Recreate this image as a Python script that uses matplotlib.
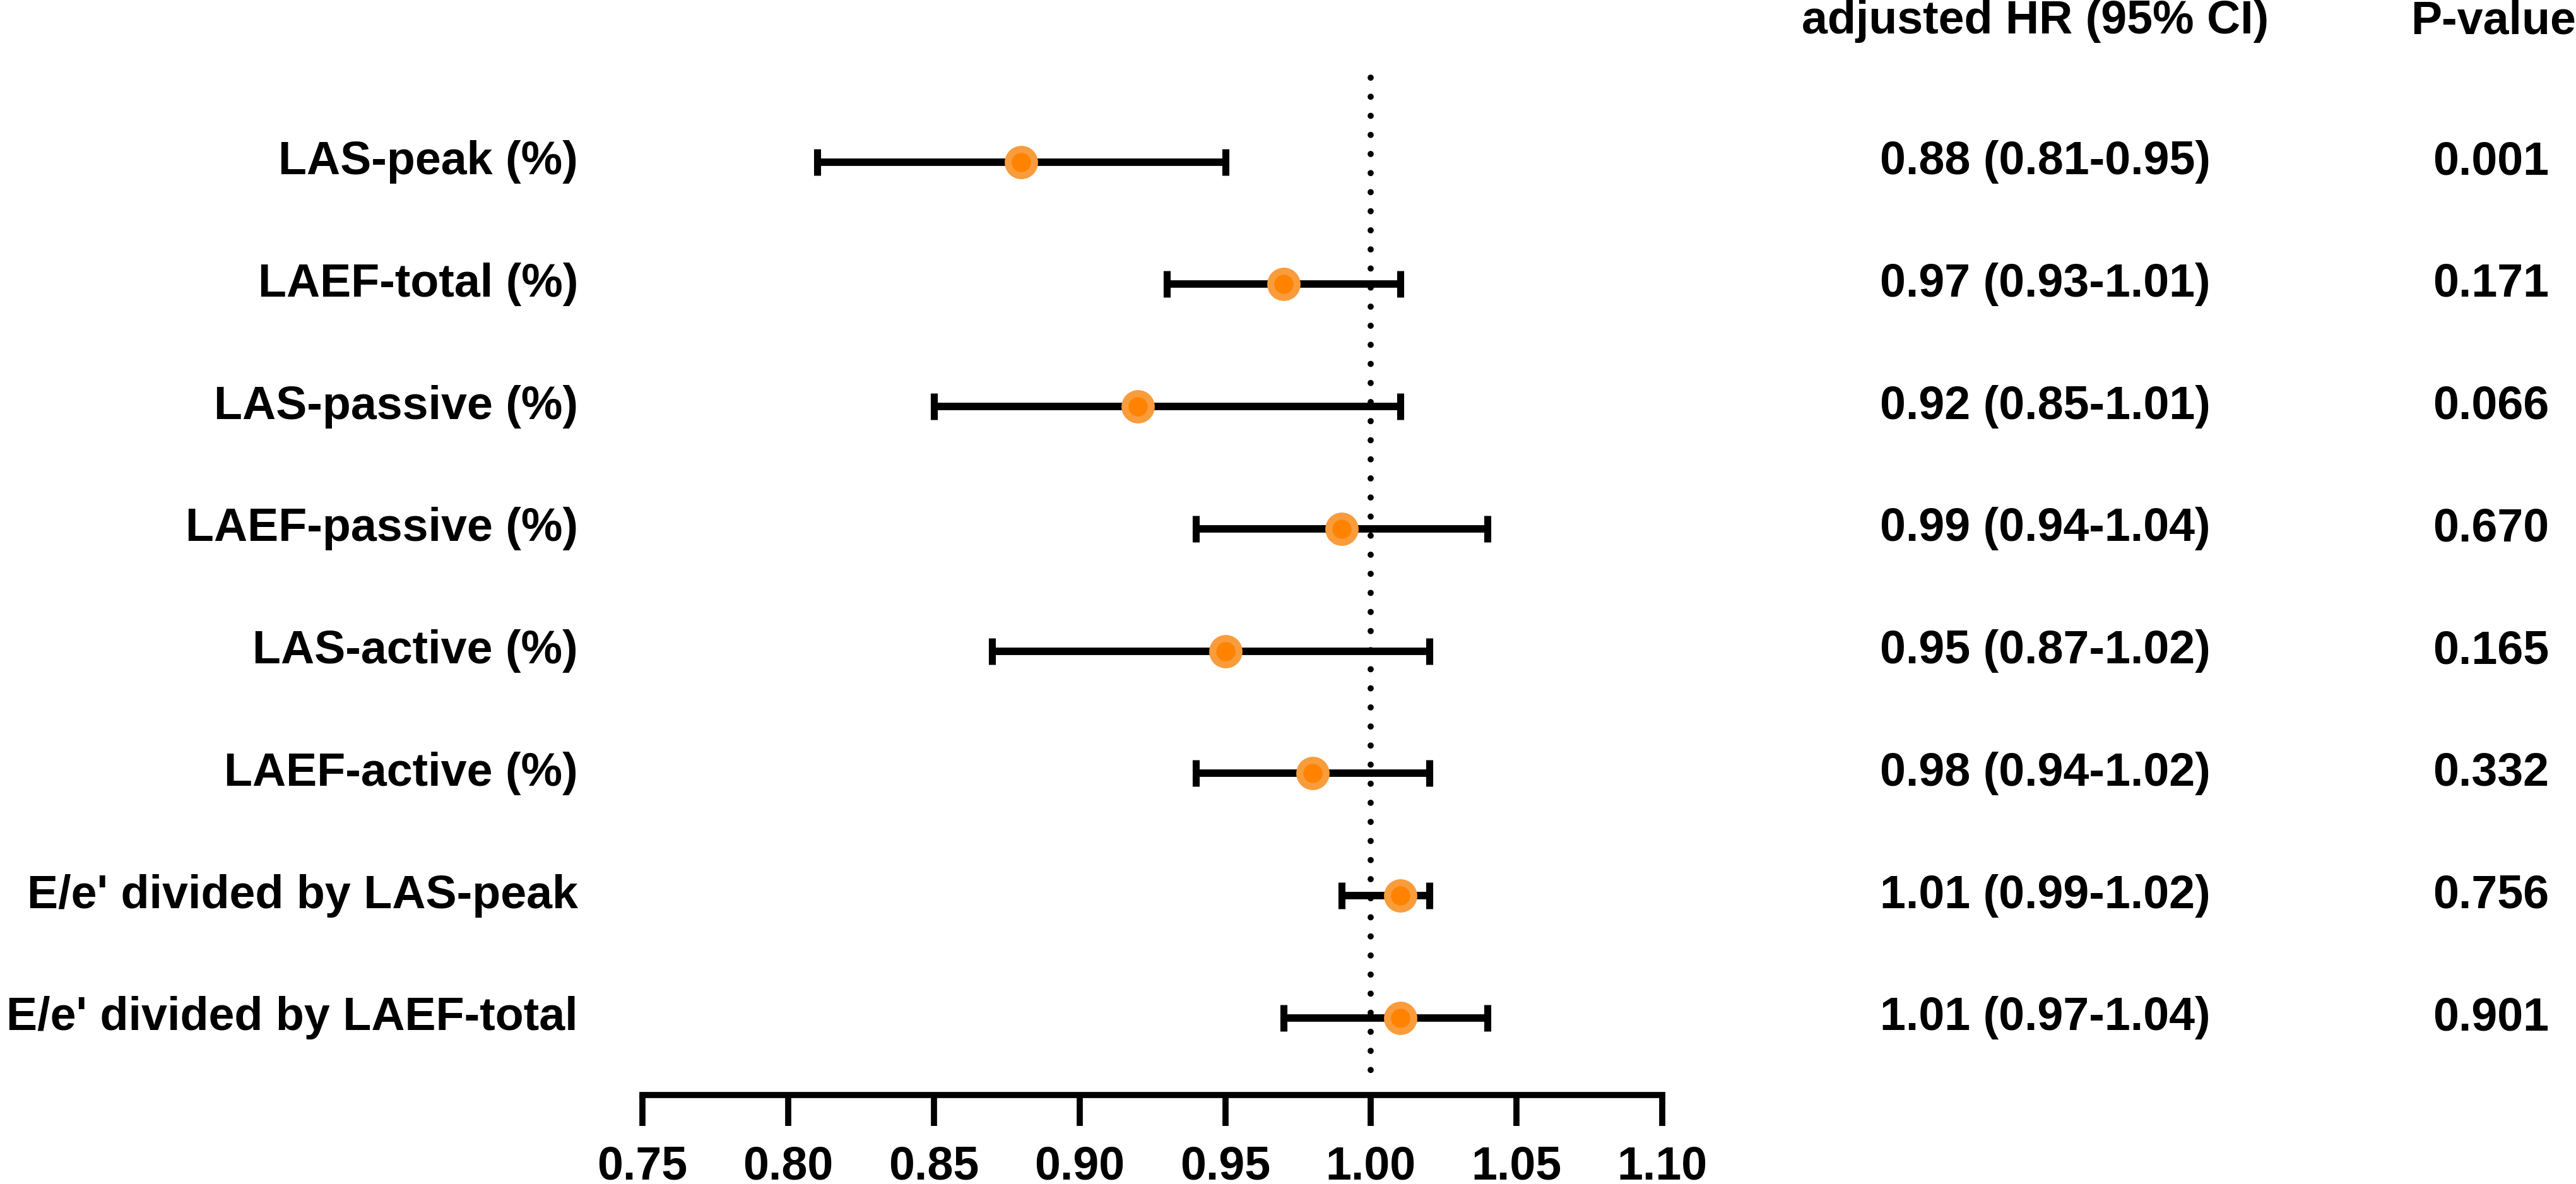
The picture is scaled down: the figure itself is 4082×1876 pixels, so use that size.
import matplotlib
matplotlib.use("Agg")
import matplotlib.pyplot as plt
import matplotlib.transforms as mtransforms

plt.rcParams["font.family"] = ["Liberation Sans", "DejaVu Sans"]
plt.rcParams["font.weight"] = "bold"

# data
labels = ["LAS-peak (%)", "LAEF-total (%)", "LAS-passive (%)", "LAEF-passive (%)",
          "LAS-active (%)", "LAEF-active (%)", "E/e' divided by LAS-peak",
          "E/e' divided by LAEF-total"]
hr = [0.88, 0.97, 0.92, 0.99, 0.95, 0.98, 1.01, 1.01]
ci_low = [0.81, 0.93, 0.85, 0.94, 0.87, 0.94, 0.99, 0.97]
ci_high = [0.95, 1.01, 1.01, 1.04, 1.02, 1.02, 1.02, 1.04]
p_values = ["0.001", "0.171", "0.066", "0.670", "0.165", "0.332", "0.756", "0.901"]
xticks = [0.75, 0.80, 0.85, 0.90, 0.95, 1.00, 1.05, 1.10]

FS = 53
ORANGE_IN = "#ff8300"
ORANGE_OUT = "#f99c3c"

fig = plt.figure(figsize=(40.82, 18.76), dpi=100)
ax = fig.add_axes([0.2494, 0.0752, 0.3959, 0.8592])

ys = list(range(len(labels)))
err_lo = [h - lo for h, lo in zip(hr, ci_low)]
err_hi = [hi - h for h, hi in zip(hr, ci_high)]

# reference line at HR = 1 (round dots)
ax.plot([1.0, 1.0], [-0.69, 7.5], color="black", lw=7, linestyle=(0, (0.01, 3.1)),
        dash_capstyle="round", zorder=1, clip_on=False)

ax.errorbar(hr, ys, xerr=[err_lo, err_hi], fmt="none", ecolor="black",
            elinewidth=8.5, capsize=15, capthick=8, zorder=2, clip_on=False)
ax.plot(hr, ys, "o", ms=30, mfc=ORANGE_IN, mec=ORANGE_OUT, mew=8,
        zorder=3, clip_on=False)

ax.set_xlim(0.75, 1.10)
ax.set_ylim(7.63, -0.69)
ax.set_xticks(xticks)
ax.set_xticklabels([f"{t:.2f}" for t in xticks], fontsize=FS, fontweight="bold")
ax.tick_params(axis="x", length=35, width=7, pad=22, color="black")
ax.set_yticks([])
for s in ("top", "right", "left"):
    ax.spines[s].set_visible(False)
ax.spines["bottom"].set_linewidth(7)
ax.spines["bottom"].set_bounds(0.75, 1.10)
ax.spines["bottom"].set_capstyle("projecting")

# row labels and table columns: x in figure fraction, y in data
trans = mtransforms.blended_transform_factory(fig.transFigure, ax.transData)
for y, lab, h, lo, hi, p in zip(ys, labels, hr, ci_low, ci_high, p_values):
    ax.text(0.2244, y, lab, transform=trans, ha="right", va="center",
            fontsize=FS, fontweight="bold")
    ax.text(0.794, y, f"{h:.2f} ({lo:.2f}-{hi:.2f})", transform=trans,
            ha="center", va="center", fontsize=FS, fontweight="bold")
    ax.text(0.967, y, p, transform=trans, ha="center", va="center",
            fontsize=FS, fontweight="bold")

fig.text(0.790, 0.982, "adjusted HR (95% CI)", ha="center", va="center",
         fontsize=FS, fontweight="bold")
fig.text(0.968, 0.982, "P-value", ha="center", va="center",
         fontsize=FS, fontweight="bold")

fig.savefig("out.png", dpi=100, facecolor="white")
